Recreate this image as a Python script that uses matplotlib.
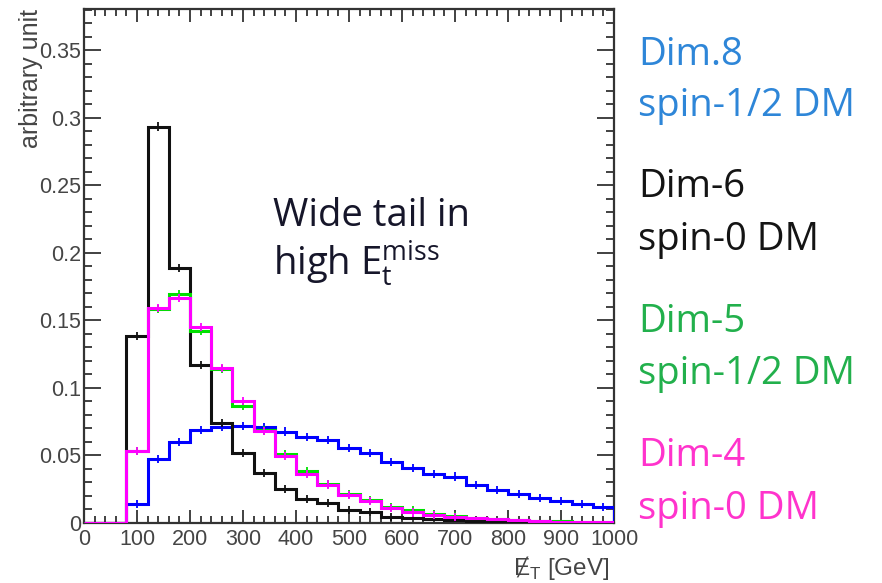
import numpy as np
import matplotlib
matplotlib.use("Agg")
import matplotlib.pyplot as plt
from matplotlib.ticker import MultipleLocator

# Missing transverse energy spectra, 40 GeV bins from 0 to 1000 GeV (unit-normalised)
bin_edges = np.arange(0, 1001, 40)

dim8_spin_half = [0.0, 0.0, 0.0138, 0.0474, 0.0602, 0.0689, 0.0714, 0.0720, 0.0707,
                  0.0677, 0.0635, 0.0617, 0.0556, 0.0518, 0.0454, 0.0410, 0.0360,
                  0.0344, 0.0278, 0.0244, 0.0214, 0.0186, 0.0162, 0.0142, 0.0119]
dim6_spin0 = [0.0, 0.0, 0.1385, 0.2935, 0.1890, 0.1170, 0.0740, 0.0516, 0.0373,
              0.0252, 0.0176, 0.0147, 0.0095, 0.0082, 0.0046, 0.0036, 0.0026,
              0.0020, 0.0014, 0.0010, 0.0007, 0.0005, 0.0004, 0.0003, 0.0002]
dim5_spin_half = [0.0, 0.0, 0.0530, 0.1585, 0.1695, 0.1420, 0.1140, 0.0868, 0.0685,
                  0.0511, 0.0388, 0.0292, 0.0213, 0.0172, 0.0120, 0.0098, 0.0065,
                  0.0050, 0.0038, 0.0029, 0.0022, 0.0016, 0.0012, 0.0009, 0.0007]
dim4_spin0 = [0.0, 0.0, 0.0533, 0.1590, 0.1668, 0.1450, 0.1146, 0.0900, 0.0680,
              0.0495, 0.0365, 0.0285, 0.0208, 0.0165, 0.0112, 0.0078, 0.0060,
              0.0046, 0.0035, 0.0027, 0.0020, 0.0015, 0.0011, 0.0008, 0.0006]

y_ticks = [0, 0.05, 0.1, 0.15, 0.2, 0.25, 0.3, 0.35]
y_tick_labels = ["0", "0.05", "0.1", "0.15", "0.2", "0.25", "0.3", "0.35"]

legend_lines = [
    ("Dim.8", "#2E86D8"),
    ("spin-1/2 DM", "#2E86D8"),
    ("Dim-6", "#141414"),
    ("spin-0 DM", "#141414"),
    ("Dim-5", "#22B04C"),
    ("spin-1/2 DM", "#22B04C"),
    ("Dim-4", "#FF33CC"),
    ("spin-0 DM", "#FF33CC"),
]
legend_baselines_px = [65, 116, 197, 250, 332, 384, 466, 519]

W, H = 882, 583
fig = plt.figure(figsize=(W / 100, H / 100), dpi=100)
ax = fig.add_axes([84 / W, 1 - 523 / H, 530 / W, (523 - 9) / H])

series = [
    (dim8_spin_half, "#0000FF"),
    (dim6_spin0, "#111111"),
    (dim5_spin_half, "#00E000"),
    (dim4_spin0, "#FF00FF"),
]
centers = 0.5 * (bin_edges[:-1] + bin_edges[1:])
err_size = 0.003
for i, (vals, col) in enumerate(series):
    vals = np.asarray(vals)
    ax.stairs(vals, bin_edges, baseline=0, color=col, lw=2.2, zorder=3 + i)
    nz = vals > 0.004
    ax.errorbar(centers[nz], vals[nz], yerr=err_size, fmt="none",
                ecolor=col, elinewidth=1.3, zorder=3 + i)

ax.set_xlim(0, 1000)
ax.set_ylim(0, 0.3805)
ax.xaxis.set_major_locator(MultipleLocator(100))
ax.xaxis.set_minor_locator(MultipleLocator(20))
ax.set_yticks(y_ticks)
ax.set_yticklabels(y_tick_labels)
ax.yaxis.set_minor_locator(MultipleLocator(0.01))

tick_col = "#454545"
ax.tick_params(which="both", direction="in", top=True, right=True,
               color="#333333", width=1.3, labelcolor=tick_col)
ax.tick_params(axis="x", which="major", length=9.5, pad=4, labelsize=15.5)
ax.tick_params(axis="x", which="minor", length=5)
ax.tick_params(axis="y", which="major", length=12, pad=2, labelsize=15.5)
ax.tick_params(axis="y", which="minor", length=6)
for lab in ax.get_xticklabels() + ax.get_yticklabels():
    lab.set_fontfamily("Liberation Sans")
for sp in ax.spines.values():
    sp.set_color("#333333")
    sp.set_linewidth(1.6)

fig.text(31 / W, 1 - 9 / H, "arbitrary unit", rotation=90, ha="center", va="top",
         fontsize=18, color=tick_col, family="Liberation Sans")
fig.text(609 / W, 1 - 575 / H, "Ɇ$_\\mathregular{T}$ [GeV]", ha="right", va="baseline",
         fontsize=17.5, color=tick_col, family=["Liberation Sans", "DejaVu Sans"])

note_col = "#16162A"
fig.text(273 / W, 1 - 226.5 / H, "Wide tail in", ha="left", va="baseline",
         fontsize=27.5, color=note_col, family="Open Sans")
fig.text(273 / W, 1 - 275 / H, "high E$_\\mathregular{t}^\\mathregular{miss}$",
         ha="left", va="baseline", fontsize=27.5, color=note_col, family="Open Sans")

for (txt, col), base in zip(legend_lines, legend_baselines_px):
    fig.text(638 / W, 1 - base / H, txt, ha="left", va="baseline",
             fontsize=27.5, color=col, family="Open Sans")

fig.savefig("out.png", dpi=100)
